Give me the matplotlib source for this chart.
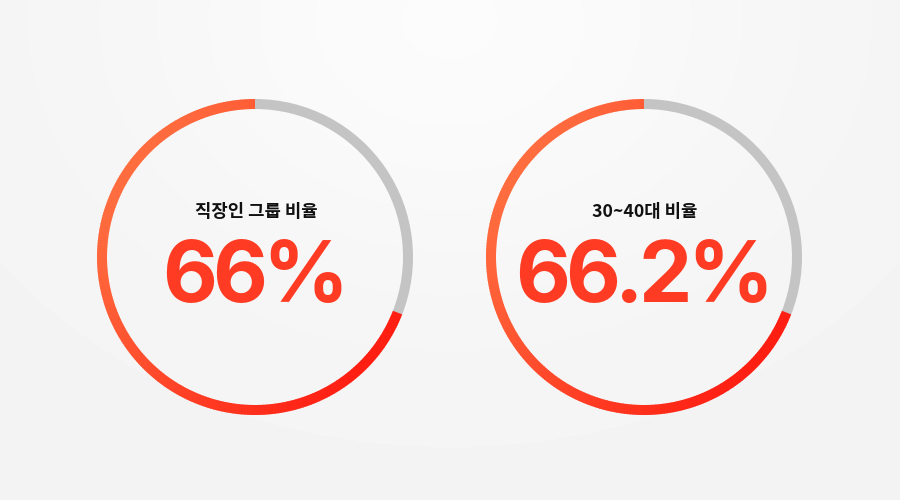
import numpy as np
import matplotlib
matplotlib.use("Agg")
import matplotlib.pyplot as plt
from matplotlib.patches import Wedge
from matplotlib.colors import to_rgb

# data
labels = ["직장인 그룹 비율", "30~40대 비율"]
value_text = ["66%", "66.2%"]
arc_fill = [0.69, 0.69]   # share of the ring drawn in red (as drawn)

# layout (pixel units, y up)
centers_x = [255, 644]
center_y = 243
R_OUT = 158
RING_W = 10

ORANGE = "#FF6D3F"
RED = "#FF1E12"
GRAY = "#C4C4C4"
NUM_COLOR = "#FF3B24"

fig = plt.figure(figsize=(9, 5), dpi=100)
ax = fig.add_axes([0, 0, 1, 1])
ax.set_xlim(0, 900)
ax.set_ylim(0, 500)
ax.set_aspect("equal")
ax.axis("off")

# background soft glow near top centre
gx, gy = np.meshgrid(np.linspace(0, 900, 450), np.linspace(0, 500, 250))
dist2 = ((gx - 450) / 420) ** 2 + ((gy - 480) / 330) ** 2
shade = 0.955 + 0.03 * np.exp(-dist2 * 1.6)
ax.imshow(shade, extent=[0, 900, 0, 500], origin="lower", cmap="gray",
          vmin=0, vmax=1, zorder=0, aspect="auto")

c0 = np.array(to_rgb(ORANGE))
c1 = np.array(to_rgb(RED))
grad_dir = np.deg2rad(35)

renderer = fig.canvas.get_renderer()


def tracked_text(cx, y, s, track, **kw):
    # draw string char by char with tighter spacing, centred on cx
    parts = [ax.text(0, y, ch, ha="left", va="baseline", **kw) for ch in s]
    widths = []
    for p in parts:
        bb = p.get_window_extent(renderer=renderer)
        widths.append(bb.width)
    total = sum(widths) + track * (len(s) - 1)
    x = cx - total / 2
    for p, w in zip(parts, widths):
        p.set_x(x)
        x += w + track


for cx, lab, txt, frac in zip(centers_x, labels, value_text, arc_fill):
    start = 90
    end = 90 + frac * 360
    # gray remainder
    ax.add_patch(Wedge((cx, center_y), R_OUT, end - 360, start, width=RING_W,
                       facecolor=GRAY, edgecolor="none", zorder=2))
    # red arc with linear gradient
    n = 240
    th = np.linspace(start, end, n + 1)
    mid = np.deg2rad((th[:-1] + th[1:]) / 2)
    proj = np.cos(mid) * np.cos(grad_dir) - np.sin(mid) * np.sin(grad_dir)
    t = (proj - proj.min()) / (proj.max() - proj.min())
    for i in range(n):
        col = c0 + (c1 - c0) * t[i]
        ax.add_patch(Wedge((cx, center_y), R_OUT, th[i], th[i + 1] + 0.3,
                           width=RING_W, facecolor=col, edgecolor="none",
                           zorder=3))

    ax.text(cx + 1, 288, lab, ha="center", va="center", fontsize=12.8,
            fontweight="bold", color="#111111",
            family=["Noto Sans CJK KR", "DejaVu Sans"], zorder=5)
    tracked_text(cx, 198, txt, -5, fontsize=61, fontweight="bold",
                 color=NUM_COLOR, family=["Inter", "DejaVu Sans"], zorder=5)

fig.savefig("out.png", dpi=100)
